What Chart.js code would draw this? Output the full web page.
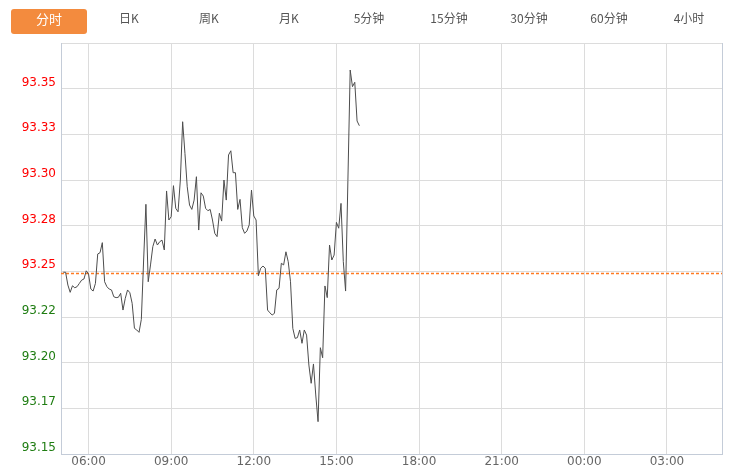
<!DOCTYPE html>
<html>
<head>
<meta charset="utf-8">
<script src="https://cdn.jsdelivr.net/npm/chart.js@4/dist/chart.umd.min.js"></script>
<style>
html,body{margin:0;padding:0;background:#fff}
#wrap{position:relative;width:738px;height:475px;overflow:hidden}
#tabs{position:absolute;left:9px;top:9px;height:25px;display:flex;z-index:2}
.tab{width:80px;height:25px;line-height:25px;text-align:center;font:12px "Noto Sans CJK SC","Noto Sans",sans-serif;color:#555}
.tab.active{background:#f38b3e;color:#fff;border-radius:3px;margin:0 2px;width:76px;font-size:13px}
#box{position:absolute;left:0;top:0;width:738px;height:475px}
</style>
</head>
<body>
<div id="wrap">
  <div id="tabs"></div>
  <div id="box"><canvas id="c"></canvas></div>
</div>
<script>
const TABS=['分时','日K','周K','月K','5分钟','15分钟','30分钟','60分钟','4小时'];

// 分时数据：05:05 起，每 5 分钟一个点（分钟数从 05:00 算起）
const START_MIN=5, STEP_MIN=5;
const PRICES=[
  93.2495,93.2495,93.2425,93.2385,93.2421,93.2410,93.2416,93.2434,93.2452,93.2458,
  93.2503,93.2485,93.2403,93.2392,93.2434,93.2595,93.2602,93.2657,93.2443,93.2416,
  93.2403,93.2398,93.2361,93.2356,93.2358,93.2380,93.2288,93.2352,93.2398,93.2383,
  93.2325,93.2188,93.2179,93.2166,93.2237,93.2562,93.2867,93.2443,93.2535,93.2635,
  93.2677,93.2644,93.2662,93.2671,93.2617,93.2940,93.2781,93.2799,93.2969,93.2845,
  93.2826,93.3000,93.3319,93.3146,93.2963,93.2863,93.2839,93.2890,93.3018,93.2726,
  93.2930,93.2912,93.2845,93.2832,93.2839,93.2781,93.2708,93.2690,93.2818,93.2775,
  93.3000,93.2890,93.3137,93.3160,93.3040,93.3040,93.2839,93.2894,93.2739,93.2708,
  93.2721,93.2754,93.2945,93.2803,93.2781,93.2476,93.2517,93.2529,93.2517,93.2288,
  93.2273,93.2261,93.2270,93.2398,93.2407,93.2544,93.2535,93.2607,93.2553,93.2443,
  93.2188,93.2133,93.2137,93.2179,93.2106,93.2179,93.2151,93.1987,93.1887,93.1993,
  93.1823,93.1677,93.2082,93.2027,93.2420,93.2356,93.2644,93.2562,93.2589,93.2768,
  93.2736,93.2872,93.2553,93.2392,93.2997,93.3602,93.3511,93.3535,93.3323,93.3297
];
const PREV_CLOSE=93.2488;

const Y_TICKS=[93.15,93.175,93.2,93.225,93.25,93.275,93.3,93.325,93.35,93.375];
const Y_LABELS=['93.15','93.17','93.20','93.22','93.25','93.28','93.30','93.33','93.35',''];
const X_TICKS=[60,240,420,600,780,960,1140,1320,1440];
const X_LABELS=['06:00','09:00','12:00','15:00','18:00','21:00','00:00','03:00',''];

const COL_UP='#ff0000', COL_DN='#1f7d12', COL_GRID='#dcdcdc', COL_AXIS='#c4ccd8';

document.getElementById('tabs').innerHTML=TABS.map((t,i)=>`<div class="tab${i===0?' active':''}">${t}</div>`).join('');

const line=PRICES.map((v,i)=>({x:START_MIN+i*STEP_MIN,y:v}));

new Chart(document.getElementById('c'),{
  type:'line',
  data:{datasets:[
    {data:line,borderColor:'#4d4d4d',borderWidth:1,pointRadius:0,tension:0,fill:false},
    {data:[{x:0,y:PREV_CLOSE},{x:1440,y:PREV_CLOSE}],borderColor:'#ff7a22',borderWidth:1.5,borderDash:[3,2],pointRadius:0,fill:false}
  ]},
  options:{
    responsive:true,maintainAspectRatio:false,animation:false,
    layout:{padding:{top:43,right:16,left:0,bottom:0}},
    plugins:{legend:{display:false},tooltip:{enabled:false}},
    scales:{
      x:{type:'linear',min:0,max:1440,
        afterBuildTicks:s=>{s.ticks=X_TICKS.map(v=>({value:v}))},
        afterFit:s=>{s.height=21},
        ticks:{padding:1,maxRotation:0,autoSkip:false,color:'#666',font:{family:'DejaVu Sans',size:12},
          callback:(v,i)=>X_LABELS[i]},
        grid:{drawTicks:false,color:c=>c.tick&&c.tick.value===1440?COL_AXIS:COL_GRID},
        border:{color:COL_AXIS}
      },
      y:{min:93.15,max:93.375,
        afterBuildTicks:s=>{s.ticks=Y_TICKS.map(v=>({value:v}))},
        afterFit:s=>{s.width=61},
        ticks:{padding:5,labelOffset:-6,autoSkip:false,font:{family:'DejaVu Sans',size:12},
          color:c=>c.tick&&c.tick.value>=PREV_CLOSE?COL_UP:COL_DN,
          callback:(v,i)=>Y_LABELS[i]},
        grid:{drawTicks:false,color:COL_GRID},
        border:{color:COL_AXIS}
      }
    }
  }
});
</script>
</body>
</html>
